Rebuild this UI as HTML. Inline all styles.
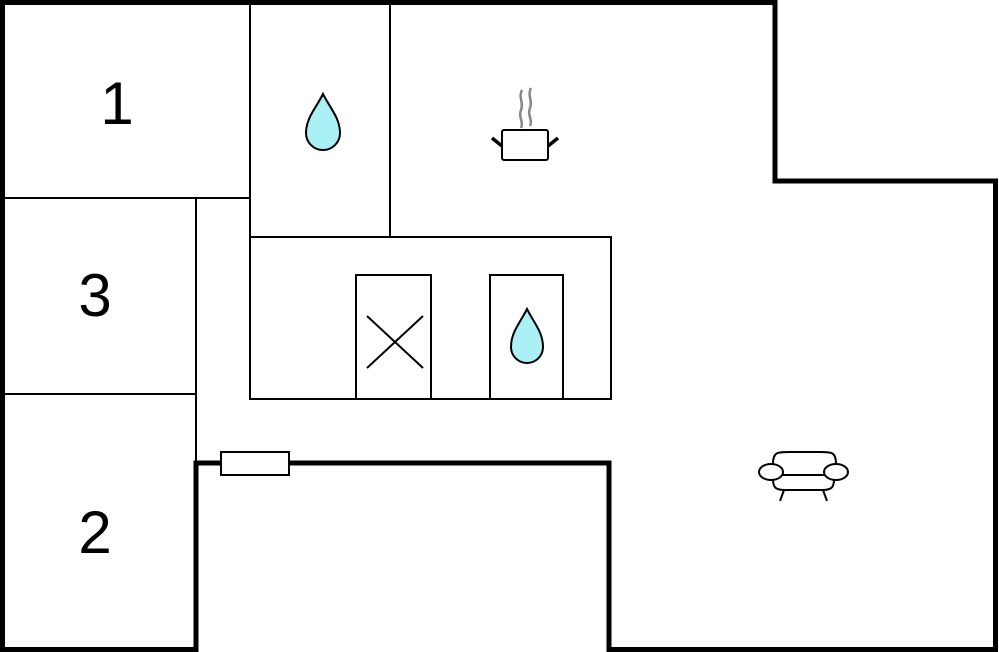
<!DOCTYPE html>
<html><head><meta charset="utf-8"><style>html,body{margin:0;padding:0;background:#fff}svg{display:block}</style></head>
<body>
<svg width="999" height="652" viewBox="0 0 999 652" xmlns="http://www.w3.org/2000/svg">
<rect width="999" height="652" fill="#fff"/>
<g stroke="#000" stroke-width="2" fill="none">
<line x1="4" y1="198" x2="250" y2="198"/>
<line x1="250" y1="4" x2="250" y2="237"/>
<line x1="390" y1="4" x2="390" y2="237"/>
<rect x="250" y="237" width="361" height="162"/>
<line x1="196" y1="198" x2="196" y2="463"/>
<line x1="4" y1="394" x2="196" y2="394"/>
<rect x="356" y="275" width="75" height="124"/>
<line x1="367" y1="316" x2="423" y2="368"/>
<line x1="423" y1="316" x2="367" y2="368"/>
<rect x="490" y="275" width="73" height="124"/>
</g>
<path d="M2.5,2.5 H775 V181 H995.5 V649.5 H609 V463 H196 V649.5 H2.5 Z" fill="none" stroke="#000" stroke-width="5" stroke-linejoin="miter"/>
<rect x="221" y="452" width="68" height="23" fill="#fff" stroke="#000" stroke-width="2"/>
<path d="M323,94 C316,108 306,118 306,133 A17,17 0 0 0 340,133 C340,118 330,108 323,94 Z" fill="#aaf0f5" stroke="#000" stroke-width="2"/>
<path d="M527,309 C520,323 511,332 511,347 A16,16 0 0 0 543,347 C543,332 534,323 527,309 Z" fill="#aaf0f5" stroke="#000" stroke-width="2"/>
<g fill="none">
<path d="M522,90 C518,97 524,103 521,110 C518,117 524,122 521,128" stroke="#888" stroke-width="2.5"/>
<path d="M531,88 C527,95 533,101 530,108 C527,115 533,120 530,126" stroke="#888" stroke-width="2.5"/>
<rect x="502" y="130" width="46" height="30" rx="2" stroke="#000" stroke-width="2"/>
<line x1="492" y1="138" x2="502" y2="146" stroke="#000" stroke-width="3.5"/>
<line x1="558" y1="138" x2="548" y2="146" stroke="#000" stroke-width="3.5"/>
<g stroke="#000" stroke-width="2">
<path d="M773,464 C773,452 777,452 790,452 H819 C832,452 836,452 836,464"/>
<ellipse cx="771" cy="472" rx="12" ry="8" fill="#fff"/>
<ellipse cx="836" cy="472" rx="12" ry="8" fill="#fff"/>
<line x1="782" y1="475" x2="825" y2="475"/>
<path d="M773,479 C773,487 775,490 785,490 H822 C832,490 834,487 834,479"/>
<line x1="784" y1="490" x2="780" y2="501"/>
<line x1="823" y1="490" x2="827" y2="501"/>
</g>
</g>
<g font-family="Liberation Sans, sans-serif" font-size="60" text-anchor="middle" fill="#000">
<text x="117" y="124">1</text>
<text x="95" y="316">3</text>
<text x="95" y="553">2</text>
</g>
</svg>
</body></html>
